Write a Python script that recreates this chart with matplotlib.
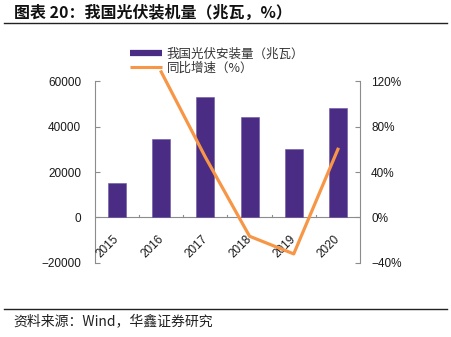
import numpy as np
import matplotlib
matplotlib.use("Agg")
import matplotlib.pyplot as plt
from matplotlib.lines import Line2D

plt.rcParams['font.family'] = ['Liberation Sans', 'Noto Sans CJK SC', 'DejaVu Sans']

# data
years = ["2015", "2016", "2017", "2018", "2019", "2020"]
installed_mw = [15130, 34540, 53000, 44260, 30110, 48200]   # 我国光伏安装量（兆瓦）
growth_years = ["2016", "2017", "2018", "2019", "2020"]
growth_pct = [128, 53, -16.5, -32, 60]                       # 同比增速（%）

left_ticks = [-20000, 0, 20000, 40000, 60000]
right_ticks = [-40, 0, 40, 80, 120]

BAR_COLOR = "#4B2C84"
LINE_COLOR = "#F79646"
SPINE_COLOR = "#8C8C8C"
CJK = ['Noto Sans CJK SC', 'DejaVu Sans']

fig = plt.figure(figsize=(4.51, 3.37), dpi=100)
ax = fig.add_axes([0.2106, 0.2196, 0.5876, 0.54])
ax2 = ax.twinx()

x = np.arange(len(years))
gx = [years.index(y) for y in growth_years]

# bars on the left axis
ax.bar(x, installed_mw, width=0.41, color=BAR_COLOR, edgecolor="#6A55A3", linewidth=0.4, zorder=2)
ax.set_xlim(-0.5, len(years) - 0.5)
ax.set_ylim(-20000, 60000)
ax.set_yticks(left_ticks)

# growth line on the right axis (first point pokes above the frame)
ax2.plot(gx, growth_pct, color=LINE_COLOR, linewidth=2.3, clip_on=False, zorder=3)
ax2.set_ylim(-40, 120)
ax2.set_yticks(right_ticks)
ax2.set_yticklabels([("%d%%" % v).replace("-", "\u2212") for v in right_ticks])

# spines: only left, right and a zero line
for a in (ax, ax2):
    a.spines["top"].set_visible(False)
    a.spines["bottom"].set_visible(False)
ax.spines["right"].set_visible(False)
ax2.spines["left"].set_visible(False)
ax.spines["left"].set_color(SPINE_COLOR)
ax2.spines["right"].set_color(SPINE_COLOR)
ax.axhline(0, color=SPINE_COLOR, linewidth=0.8, zorder=1)

ax.tick_params(axis="y", direction="in", length=3.5, width=0.8, color=SPINE_COLOR,
               pad=10, labelsize=8.5, labelcolor="#1a1a1a")
ax2.tick_params(axis="y", direction="in", length=3.5, width=0.8, color=SPINE_COLOR,
                pad=8, labelsize=8.5, labelcolor="#1a1a1a")

# category boundary ticks standing on the zero line
ax.set_xticks([])
for b in np.arange(0.5, len(years) - 0.5, 1.0):
    ax.plot([b, b], [0, 1000], color=SPINE_COLOR, linewidth=0.8, zorder=1)

# rotated year labels just below the zero line
for i, yr in enumerate(years):
    ax.annotate(yr, xy=(i, 0), xytext=(-9, -29), textcoords="offset pixels",
                rotation=45, ha="center", va="center", fontsize=8.5, color="#1a1a1a")

# legend at the top of the plot
handles = [Line2D([], [], color=BAR_COLOR, linewidth=4.5, solid_capstyle="butt"),
           Line2D([], [], color=LINE_COLOR, linewidth=2.2, solid_capstyle="butt")]
leg = fig.legend(handles, ["我国光伏安装量（兆瓦）", "同比增速（%）"],
                 loc="upper left", bbox_to_anchor=(0.289, 0.858), frameon=False,
                 handlelength=2.5, handletextpad=0.4, labelspacing=0.05,
                 borderaxespad=0, borderpad=0, prop={'family': CJK, 'size': 9})
for t in leg.get_texts():
    t.set_color("#333333")

# title, source and rule lines
fig.text(0.031, 0.963, "图表 20：我国光伏装机量（兆瓦，%）", fontsize=11.5, fontweight="bold",
         family=CJK, ha="left", va="center", color="#111111")
fig.add_artist(Line2D([4 / 451, 447 / 451], [1 - 23 / 337, 1 - 23 / 337],
                      color="#222222", linewidth=1.0))
fig.add_artist(Line2D([4 / 451, 447 / 451], [1 - 309 / 337, 1 - 309 / 337],
                      color="#222222", linewidth=1.0))
fig.text(0.029, 1 - 321 / 337, "资料来源：Wind，华鑫证券研究", fontsize=10,
         family=CJK, ha="left", va="center", color="#222222")

fig.savefig("out.png", dpi=100)
